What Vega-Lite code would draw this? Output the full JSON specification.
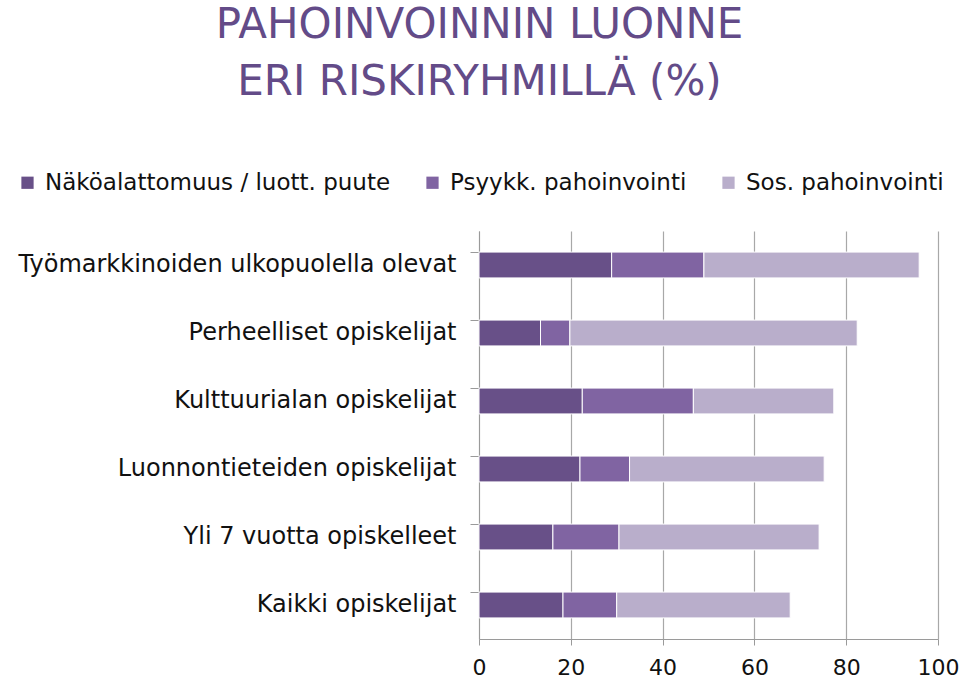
{
  "$schema": "https://vega.github.io/schema/vega-lite/v6.json",
  "autosize": "none",
  "width": 459,
  "height": 408,
  "padding": {"left": 479, "top": 231, "right": 22, "bottom": 44},
  "background": "white",
  "title": {
    "text": ["PAHOINVOINNIN LUONNE", "ERI RISKIRYHMILLÄ (%)"],
    "font": "DejaVu Sans",
    "fontSize": 42,
    "fontWeight": "normal",
    "color": "#634b88",
    "lineHeight": 57,
    "anchor": "middle",
    "frame": "group",
    "dx": -229,
    "offset": 67
  },
  "data": {
    "values": [
      {"ryhma": "Työmarkkinoiden ulkopuolella olevat", "tyyppi": "Näköalattomuus / luott. puute", "j": 1, "arvo": 28.9},
      {"ryhma": "Työmarkkinoiden ulkopuolella olevat", "tyyppi": "Psyykk. pahoinvointi", "j": 2, "arvo": 20.1},
      {"ryhma": "Työmarkkinoiden ulkopuolella olevat", "tyyppi": "Sos. pahoinvointi", "j": 3, "arvo": 46.9},
      {"ryhma": "Perheelliset opiskelijat", "tyyppi": "Näköalattomuus / luott. puute", "j": 1, "arvo": 13.4},
      {"ryhma": "Perheelliset opiskelijat", "tyyppi": "Psyykk. pahoinvointi", "j": 2, "arvo": 6.4},
      {"ryhma": "Perheelliset opiskelijat", "tyyppi": "Sos. pahoinvointi", "j": 3, "arvo": 62.6},
      {"ryhma": "Kulttuurialan opiskelijat", "tyyppi": "Näköalattomuus / luott. puute", "j": 1, "arvo": 22.5},
      {"ryhma": "Kulttuurialan opiskelijat", "tyyppi": "Psyykk. pahoinvointi", "j": 2, "arvo": 24.2},
      {"ryhma": "Kulttuurialan opiskelijat", "tyyppi": "Sos. pahoinvointi", "j": 3, "arvo": 30.6},
      {"ryhma": "Luonnontieteiden opiskelijat", "tyyppi": "Näköalattomuus / luott. puute", "j": 1, "arvo": 22.0},
      {"ryhma": "Luonnontieteiden opiskelijat", "tyyppi": "Psyykk. pahoinvointi", "j": 2, "arvo": 10.8},
      {"ryhma": "Luonnontieteiden opiskelijat", "tyyppi": "Sos. pahoinvointi", "j": 3, "arvo": 42.4},
      {"ryhma": "Yli 7 vuotta opiskelleet", "tyyppi": "Näköalattomuus / luott. puute", "j": 1, "arvo": 16.1},
      {"ryhma": "Yli 7 vuotta opiskelleet", "tyyppi": "Psyykk. pahoinvointi", "j": 2, "arvo": 14.4},
      {"ryhma": "Yli 7 vuotta opiskelleet", "tyyppi": "Sos. pahoinvointi", "j": 3, "arvo": 43.6},
      {"ryhma": "Kaikki opiskelijat", "tyyppi": "Näköalattomuus / luott. puute", "j": 1, "arvo": 18.3},
      {"ryhma": "Kaikki opiskelijat", "tyyppi": "Psyykk. pahoinvointi", "j": 2, "arvo": 11.7},
      {"ryhma": "Kaikki opiskelijat", "tyyppi": "Sos. pahoinvointi", "j": 3, "arvo": 37.8}
    ]
  },
  "mark": {"type": "bar", "stroke": "white", "strokeWidth": 1},
  "encoding": {
    "y": {
      "field": "ryhma",
      "type": "nominal",
      "sort": null,
      "scale": {"paddingInner": 0.62, "paddingOuter": 0.31},
      "axis": {
        "title": null,
        "labelFont": "DejaVu Sans",
        "labelFontSize": 24,
        "labelColor": "#111111",
        "labelPadding": 14,
        "labelLimit": 500,
        "bandPosition": 0,
        "tickSize": 9,
        "tickColor": "#9a9a9a",
        "domainColor": "#9a9a9a",
        "grid": false
      }
    },
    "x": {
      "field": "arvo",
      "type": "quantitative",
      "stack": "zero",
      "scale": {"domain": [0, 100], "nice": false},
      "axis": {
        "title": null,
        "values": [0, 20, 40, 60, 80, 100],
        "labelFont": "DejaVu Sans",
        "labelFontSize": 22,
        "labelColor": "#111111",
        "labelPadding": 12,
        "labelFlush": false,
        "labelOverlap": false,
        "tickSize": 6,
        "tickColor": "#9a9a9a",
        "domainColor": "#9a9a9a",
        "gridColor": "#a8a8a8",
        "gridWidth": 1.2
      }
    },
    "order": {"field": "j", "type": "quantitative"},
    "color": {
      "field": "tyyppi",
      "type": "nominal",
      "sort": ["Näköalattomuus / luott. puute", "Psyykk. pahoinvointi", "Sos. pahoinvointi"],
      "scale": {
        "domain": ["Näköalattomuus / luott. puute", "Psyykk. pahoinvointi", "Sos. pahoinvointi"],
        "range": ["#685088", "#8064a2", "#b9aecb"]
      },
      "legend": {
        "title": null,
        "orient": "none",
        "direction": "horizontal",
        "legendX": -463,
        "legendY": -60,
        "symbolType": "square",
        "symbolSize": 150,
        "symbolStrokeWidth": 0,
        "labelFont": "DejaVu Sans",
        "labelFontSize": 23,
        "labelColor": "#111111",
        "labelOffset": 6,
        "columnPadding": 30,
        "labelLimit": 500
      }
    }
  },
  "config": {"view": {"stroke": null}}
}
